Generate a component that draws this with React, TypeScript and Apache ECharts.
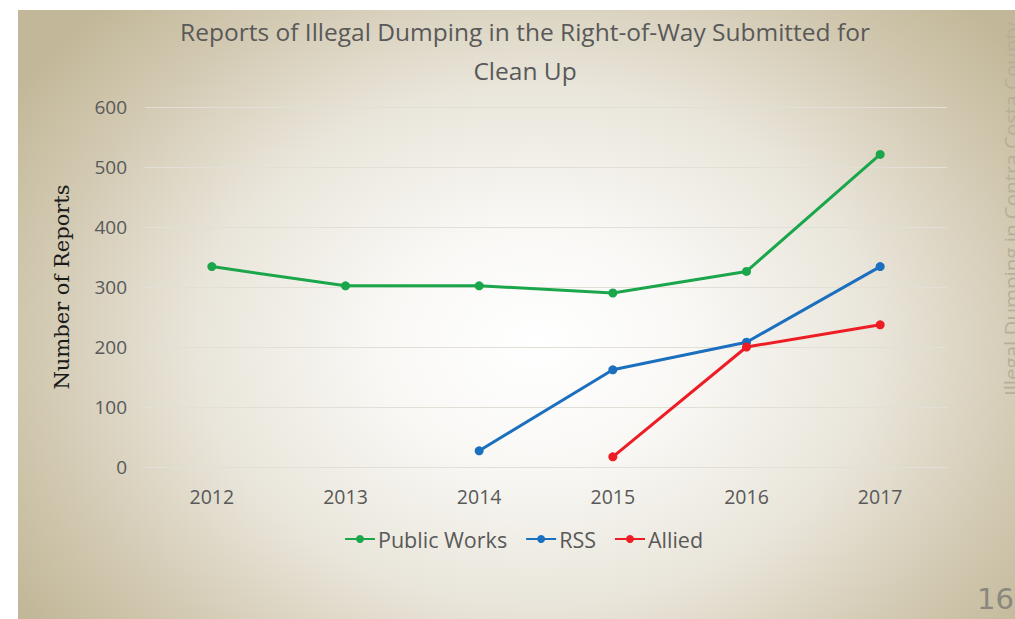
import React, { useEffect, useRef } from "react";
import * as echarts from "echarts";

const years = ["2012", "2013", "2014", "2015", "2016", "2017"];
const publicWorks = [334, 302, 302, 290, 326, 521];
const rss = [null, null, 27, 162, 208, 334];
const allied = [null, null, null, 17, 200, 237];
const seriesNames = ["Public Works", "RSS", "Allied"];
const seriesColors = ["#1ba64c", "#1b6fbf", "#ee1c25"];
const titleText = "Reports of Illegal Dumping in the Right-of-Way Submitted for\nClean Up";
const yAxisTitle = "Number of Reports";
const sideText = "Illegal Dumping in Contra Costa County";
const pageNumber = "16";

export default function App() {
  const ref = useRef<HTMLDivElement>(null);
  useEffect(() => {
    if (!ref.current) return;
    const chart = echarts.init(ref.current, undefined, { renderer: "svg" });
    const values = [publicWorks, rss, allied];
    chart.setOption({
      animation: false,
      backgroundColor: "transparent",
      title: {
        text: titleText,
        left: 502,
        top: -3,
        textAlign: "center",
        textStyle: {
          fontFamily: "Open Sans",
          fontSize: 24.5,
          fontWeight: "normal",
          color: "#595959",
          lineHeight: 39,
        },
      },
      legend: {
        data: seriesNames,
        left: 321,
        top: 513,
        itemWidth: 30,
        itemHeight: 10,
        itemGap: 18,
        textStyle: { fontFamily: "Open Sans", fontSize: 21.5, color: "#595959", padding: [0, 0, 0, -2] },
      },
      grid: { left: 127, right: 68, top: 97, bottom: 152, containLabel: false },
      xAxis: {
        type: "category",
        data: years,
        boundaryGap: true,
        axisLine: { show: true, lineStyle: { color: "#e2dfd6", width: 1 } },
        axisTick: { show: false },
        axisLabel: { margin: 19, fontFamily: "Open Sans", fontSize: 19.5, color: "#595959" },
        splitLine: { show: false },
      },
      yAxis: {
        type: "value",
        min: 0,
        max: 600,
        interval: 100,
        axisLine: { show: false },
        axisTick: { show: false },
        axisLabel: { margin: 18, fontFamily: "Open Sans", fontSize: 19, color: "#595959" },
        splitLine: { show: true, lineStyle: { color: "#e2dfd6", width: 1 } },
      },
      graphic: [
        {
          type: "text",
          x: 44,
          y: 277,
          rotation: Math.PI / 2,
          style: {
            text: yAxisTitle,
            fontFamily: "DejaVu Serif",
            fontSize: 21,
            fill: "#1a1a1a",
            textAlign: "center",
            textVerticalAlign: "middle",
          },
        },
        {
          type: "text",
          x: 993,
          y: 199,
          rotation: Math.PI / 2,
          style: {
            text: sideText,
            fontFamily: "Open Sans",
            fontSize: 20.5,
            fill: "#b7af99",
            textAlign: "center",
            textVerticalAlign: "middle",
          },
        },
        {
          type: "text",
          x: 996,
          y: 589,
          style: {
            text: pageNumber,
            fontFamily: "DejaVu Sans",
            fontSize: 29,
            fill: "#8a877e",
            textAlign: "right",
            textVerticalAlign: "middle",
          },
        },
      ],
      series: seriesNames.map((name, i) => ({
        name,
        type: "line",
        data: values[i],
        symbol: "circle",
        symbolSize: 9,
        showSymbol: true,
        connectNulls: false,
        itemStyle: { color: seriesColors[i] },
        lineStyle: { color: seriesColors[i], width: 3 },
      })),
    });
    return () => chart.dispose();
  }, []);
  return (
    <div style={{ position: "fixed", left: 0, top: 0, width: 1015, height: 619, background: "#ffffff", overflow: "hidden" }}>
      <div
        style={{
          position: "absolute",
          left: 18,
          top: 10,
          width: 997,
          height: 609,
          background:
            "radial-gradient(ellipse 62% 78% at 52% 55%, #ffffff 0%, #f9f8f5 25%, #e9e5da 55%, #d3cab3 80%, #c2b798 100%)",
        }}
      >
        <div ref={ref} style={{ width: 997, height: 609 }} />
      </div>
    </div>
  );
}
